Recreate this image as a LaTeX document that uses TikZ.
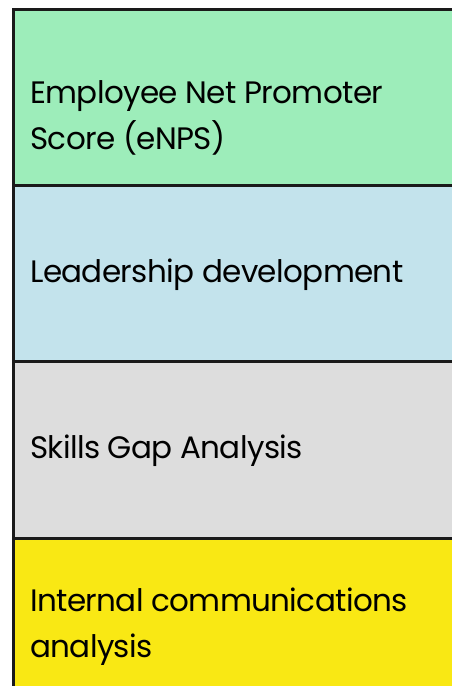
\documentclass[tikz,border=0pt]{standalone}
\usepackage{fontspec}
\setmainfont[LetterSpace=-2]{Poppins}
\definecolor{cgreen}{HTML}{9DEDBA}
\definecolor{cblue}{HTML}{C3E3EC}
\definecolor{cgray}{HTML}{DDDDDD}
\definecolor{cyellow}{HTML}{F9E814}
\definecolor{cline}{HTML}{1A1A1A}
\begin{document}
\begin{tikzpicture}[x=1pt,y=-1pt,
  band/.style={fill=#1,draw=cline,line width=3pt},
  lbl/.style={anchor=west,align=left,inner sep=0pt,font=\fontsize{31}{46}\selectfont,text=black}]
\useasboundingbox (0,0) rectangle (451,686);
\path[band=cgreen] (13,9) rectangle (460,185);
\path[band=cblue] (13,185) rectangle (460,361);
\path[band=cgray] (13,361) rectangle (460,538);
\path[band=cyellow] (13,538) rectangle (460,700);
\node[lbl] (a) at (30,118) {Employee Net Promoter\\Score (eNPS)};
\node[lbl] (b) at (30,275) {Leadership development};
\node[lbl] (c) at (30,451) {Skills Gap Analysis};
\node[lbl] (d) at (30,627) {Internal communications\\analysis};
\end{tikzpicture}
\end{document}
